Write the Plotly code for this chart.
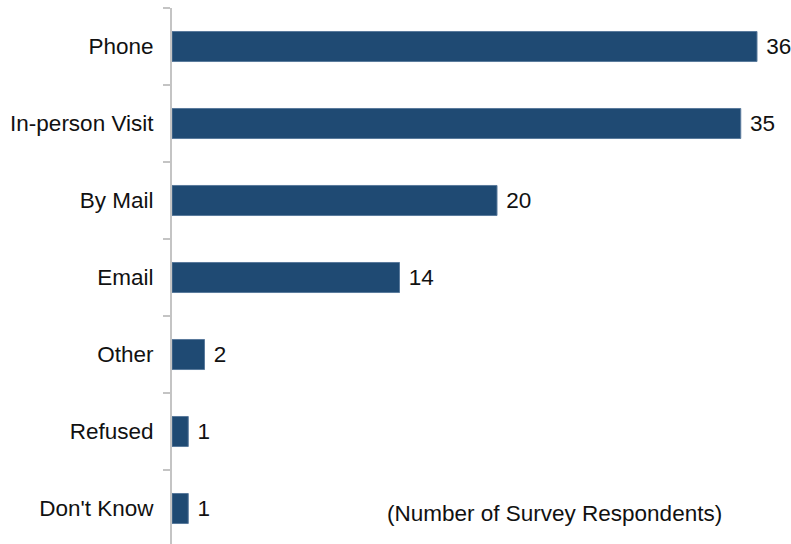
import plotly.graph_objects as go

categories = ["Phone", "In-person Visit", "By Mail", "Email", "Other", "Refused", "Don't Know"]
values = [36, 35, 20, 14, 2, 1, 1]
note_text = "(Number of Survey Respondents)"

cats_bottom_up = categories[::-1]
vals_bottom_up = values[::-1]

fig = go.Figure(go.Bar(
    x=vals_bottom_up,
    y=cats_bottom_up,
    orientation="h",
    width=0.39,
    marker=dict(color="#1f4a73", line=dict(color="#5a7a9c", width=1)),
    texttemplate=" %{x}",
    textposition="outside",
    textfont=dict(family="Liberation Sans, Arial, sans-serif", size=22.5, color="#111111"),
    cliponaxis=False,
))

fig.update_layout(
    width=791, height=544,
    margin=dict(l=172, r=0, t=8, b=0),
    plot_bgcolor="white", paper_bgcolor="white",
    showlegend=False,
    font=dict(family="Liberation Sans, Arial, sans-serif", size=22.5, color="#111111"),
    xaxis=dict(range=[0, 619/16.25], visible=False, fixedrange=True),
    yaxis=dict(
        type="category",
        categoryorder="array", categoryarray=cats_bottom_up,
        range=[6.5 - 536/77, 6.5],
        showline=True, linecolor="#c4c4c4", linewidth=2,
        ticks="outside", tickson="boundaries", ticklen=7, tickcolor="#c4c4c4", tickwidth=1.5,
        ticklabelstandoff=12,
        showgrid=False, zeroline=False,
        tickfont=dict(size=22.5, color="#111111"),
    ),
    annotations=[dict(
        text=note_text, xref="paper", yref="paper",
        x=(554 - 172) / 619, y=(544 - 513) / 536, xanchor="center", yanchor="middle",
        showarrow=False, font=dict(size=22.5, color="#111111"),
    )],
)

fig.write_html("out.html")
